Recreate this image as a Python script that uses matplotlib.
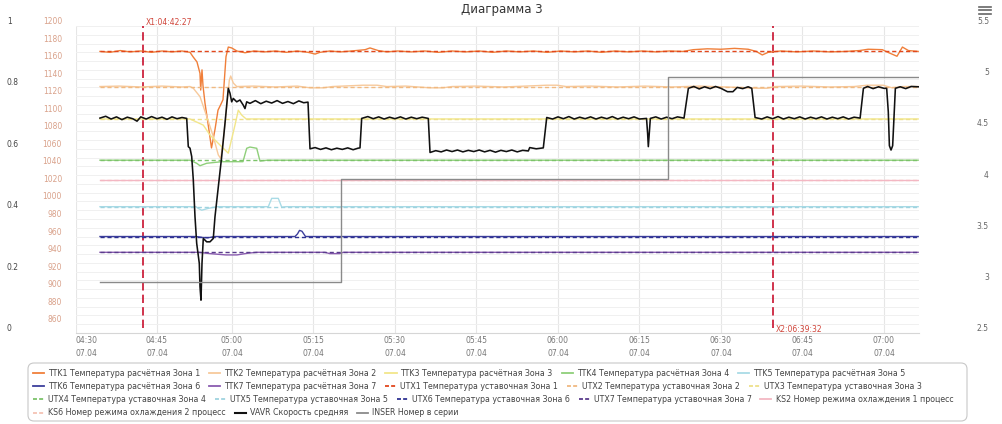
"""Диаграмма 3: температура по зонам печи, скорость и номер в серии (07.04, 04:30-07:06)."""
import numpy as np
import matplotlib
matplotlib.use('Agg')
import matplotlib.pyplot as plt
from matplotlib.lines import Line2D
from matplotlib.patches import FancyBboxPatch
from matplotlib.ticker import FixedLocator, MultipleLocator, FuncFormatter

W, H = 1003, 424

# x values are minutes after 04:30 (07.04)
DATE = '07.04'
X1_T, X1_LABEL = 12.45, 'X1:04:42:27'
X2_T, X2_LABEL = 129.53, 'X2:06:39:32'
T0, T_END = 4.44, 156.3

# ---- calculated temperatures (solid) ----
ttk1_t = [4.44, 6.3, 8.2, 10.0, 12.0, 14.0, 16.0, 18.0, 20.0, 21.6, 22.2, 23.0, 23.6, 23.74,
          24.0, 24.2, 24.6, 25.2, 25.9, 26.6, 27.2, 27.8, 28.2, 28.8, 29.26, 29.94, 30.9,
          32.4, 34.0, 36.0, 38.0, 40.0, 42.0, 44.0, 45.3, 46.2, 48.0, 50.0, 52.0, 54.5,
          55.4, 56.9, 58.5, 60.5, 63.0, 65.5, 68.0, 70.5, 73.0, 75.5, 78.0, 80.5, 83.0,
          85.5, 88.0, 90.5, 93.0, 95.5, 98.0, 100.5, 103.0, 105.5, 108.0, 110.5, 113.0,
          114.9, 117.5, 120.0, 122.5, 125.0, 126.5, 127.6, 128.7, 131.0, 134.0, 137.0,
          140.0, 143.0, 145.5, 147.1, 149.7, 150.9, 152.4, 153.4, 154.5, 156.3]
ttk1_v = [1171, 1170, 1172, 1170.5, 1171.5, 1170, 1171.5, 1170.5, 1171.5, 1170, 1165, 1159,
          1146, 1127, 1150, 1132, 1112, 1089, 1061, 1082, 1104, 1111, 1116, 1165, 1176,
          1175, 1171.5, 1169.5, 1171.5, 1170.5, 1171.5, 1170, 1171.5, 1170, 1168, 1170,
          1171.5, 1170.5, 1171.5, 1173, 1175, 1172, 1170.5, 1171.5, 1170.5, 1171.5, 1170,
          1171.5, 1170.5, 1171.5, 1170, 1171.5, 1170.5, 1171.5, 1170, 1171.5, 1170.5,
          1171.5, 1170, 1171.5, 1170.5, 1171.5, 1170.5, 1171.5, 1171, 1173, 1174, 1173.5,
          1174.5, 1173.5, 1171, 1167, 1170, 1171.5, 1170.5, 1171.5, 1170.5, 1171, 1172,
          1173.5, 1173, 1169.5, 1165.5, 1176, 1172, 1171]

ttk2_t = [4.44, 8.0, 12.0, 16.0, 20.0, 21.6, 22.26, 23.6, 24.94, 26.26, 27.26, 27.74, 28.26,
          28.94, 29.46, 29.74, 30.24, 30.87, 34.0, 38.0, 42.0, 44.4, 46.8, 48.5, 54.1, 56.7,
          58.5, 62.0, 66.45, 68.84, 70.5, 75.0, 80.0, 84.0, 87.98, 89.82, 91.5, 96.0, 101.0,
          106.0, 111.0, 116.0, 121.0, 126.65, 128.49, 130.0, 135.0, 140.0, 144.5, 146.9,
          149.85, 151.5, 153.5, 156.3]
ttk2_v = [1131, 1131.5, 1130.5, 1131.5, 1130.5, 1131, 1129, 1119.5, 1097, 1074, 1053, 1049,
          1070, 1108, 1138, 1143, 1135, 1131, 1131.5, 1130.5, 1131.5, 1129.5, 1129.5, 1131,
          1132.5, 1132.5, 1131, 1131.5, 1129.5, 1129.5, 1131, 1131.5, 1130.5, 1131.5, 1132.5,
          1132.5, 1131, 1131.5, 1130.5, 1131.5, 1130.5, 1131.5, 1130.5, 1129, 1129, 1131,
          1131.5, 1130.5, 1131, 1132.5, 1132.5, 1129.5, 1131, 1131]

ttk3_t = [4.44, 21.6, 24.26, 25.6, 27.6, 29.26, 30.55, 31.16, 31.78, 32.6, 156.3]
ttk3_v = [1094, 1094, 1087, 1075.7, 1064.3, 1055, 1087, 1104, 1098.5, 1094, 1094]

ttk4_t = [4.44, 21.6, 22.94, 23.6, 24.94, 27.94, 32.02, 32.71, 33.31, 34.55, 35.15, 36.5, 156.3]
ttk4_v = [1047, 1047, 1043.5, 1040.7, 1043.5, 1045.3, 1045.3, 1060.6, 1062, 1060.6, 1046, 1047, 1047]

ttk5_t = [4.44, 22.8, 23.26, 23.94, 25.2, 26.94, 36.68, 37.31, 38.52, 39.15, 40.0, 156.3]
ttk5_v = [994, 994, 992, 990, 992, 994, 994, 1003.5, 1003.5, 993.5, 994, 994]

ttk6_t = [4.44, 22.8, 24.0, 25.1, 26.6, 41.6, 42.06, 42.43, 42.88, 43.53, 156.3]
ttk6_v = [960, 960, 959, 958.5, 960, 960, 963, 967, 966, 960, 960]

ttk7_t = [4.44, 23.4, 25.6, 28.8, 30.9, 32.95, 34.5, 47.1, 48.0, 49.8, 50.5, 156.3]
ttk7_v = [942, 942, 940.5, 939, 939, 941, 942, 942, 940.5, 940.5, 942, 942]

# ---- set-point temperatures (dashed), constant over the range ----
utx_v = [1171, 1131, 1094, 1047, 994, 960, 942]

# ---- cooling mode numbers (left 0..1 axis) ----
ks2_v = 0.5
ks6_v = 0.5

# ---- average speed (left 0..1 axis) ----
vavr_t = [4.44, 5.5, 6.5, 7.5, 8.5, 9.5, 10.5, 11.3, 12.0, 13.0, 14.0, 15.0, 16.0, 17.0, 18.0,
          19.0, 20.0, 20.94, 21.26, 21.6, 21.94, 22.26, 22.6, 22.94, 23.46, 23.6, 23.8, 24.0,
          24.26, 24.94, 25.6, 26.26, 26.6, 27.26, 27.94, 28.6, 29.26, 29.6, 29.94, 30.24,
          30.87, 31.47, 32.08, 32.39, 32.71, 33.31, 34.3, 35.3, 36.3, 37.3, 38.3, 39.3, 40.3,
          41.3, 42.3, 43.2, 43.99, 44.36, 45.3, 46.3, 47.3, 48.3, 49.3, 50.3, 51.3, 52.3, 53.2,
          53.56, 53.87, 55.0, 56.0, 57.0, 58.0, 59.0, 60.0, 61.0, 62.0, 63.0, 64.0, 65.0,
          66.13, 66.45, 67.5, 68.5, 69.5, 70.5, 71.5, 72.5, 73.5, 74.5, 75.5, 76.5, 77.5,
          78.5, 79.5, 80.5, 81.5, 82.5, 83.5, 84.54, 84.8, 86.0, 87.3, 87.93, 89.0, 90.0,
          91.0, 92.0, 93.0, 94.0, 95.0, 96.0, 97.0, 98.0, 99.0, 100.0, 101.0, 102.0, 103.0,
          104.0, 105.0, 106.3, 106.5, 106.63, 106.8, 107.0, 108.0, 109.0, 110.0, 111.0,
          112.0, 113.2, 114.0, 115.0, 116.0, 117.0, 118.0, 119.0, 120.0, 121.2, 122.2, 123.0,
          124.0, 125.0, 125.67, 126.28, 127.5, 128.5, 129.5, 130.5, 131.5, 132.5, 133.5,
          134.5, 135.5, 136.5, 137.5, 138.5, 139.5, 140.5, 141.5, 142.5, 143.5, 144.5,
          145.61, 146.22, 147.0, 148.0, 149.0, 150.0, 150.5, 150.8, 151.0, 151.3, 151.6,
          151.9, 152.1, 153.0, 154.0, 155.0, 156.3]
vavr_v = [0.700, 0.706, 0.697, 0.704, 0.695, 0.703, 0.698, 0.690, 0.704, 0.697, 0.705, 0.698,
          0.703, 0.696, 0.704, 0.698, 0.702, 0.699, 0.607, 0.602, 0.575, 0.499, 0.379, 0.292,
          0.227, 0.151, 0.107, 0.227, 0.308, 0.297, 0.297, 0.308, 0.379, 0.476, 0.575, 0.683,
          0.797, 0.781, 0.753, 0.764, 0.753, 0.759, 0.742, 0.731, 0.753, 0.748, 0.757, 0.747,
          0.755, 0.749, 0.757, 0.748, 0.754, 0.747, 0.756, 0.750, 0.752, 0.600, 0.604, 0.598,
          0.603, 0.597, 0.602, 0.598, 0.603, 0.597, 0.602, 0.603, 0.699, 0.705, 0.698, 0.704,
          0.697, 0.703, 0.698, 0.704, 0.697, 0.703, 0.698, 0.703, 0.699, 0.588, 0.594, 0.590,
          0.596, 0.591, 0.596, 0.590, 0.595, 0.591, 0.596, 0.590, 0.595, 0.589, 0.595, 0.591,
          0.596, 0.590, 0.595, 0.593, 0.604, 0.600, 0.603, 0.702, 0.697, 0.704, 0.698, 0.705,
          0.697, 0.703, 0.698, 0.704, 0.697, 0.703, 0.698, 0.705, 0.697, 0.703, 0.698, 0.704,
          0.697, 0.699, 0.650, 0.607, 0.650, 0.699, 0.704, 0.697, 0.703, 0.698, 0.704, 0.700,
          0.797, 0.803, 0.795, 0.802, 0.796, 0.803, 0.797, 0.786, 0.786, 0.800, 0.796, 0.802,
          0.797, 0.702, 0.697, 0.704, 0.698, 0.705, 0.697, 0.703, 0.698, 0.704, 0.697, 0.703,
          0.698, 0.704, 0.697, 0.703, 0.698, 0.704, 0.697, 0.703, 0.700, 0.797, 0.803, 0.796,
          0.802, 0.797, 0.797, 0.720, 0.610, 0.596, 0.610, 0.720, 0.797, 0.802, 0.796, 0.803,
          0.802]

# ---- number in series (right 2.5..5.5 axis) ----
inser_t = [4.44, 50.06, 110.25, 156.3]
inser_v = [3, 4, 5, 5]

LEGEND_LABELS = [
    'TTK1 Температура расчётная Зона 1', 'TTK2 Температура расчётная Зона 2',
    'TTK3 Температура расчётная Зона 3', 'TTK4 Температура расчётная Зона 4',
    'TTK5 Температура расчётная Зона 5', 'TTK6 Температура расчётная Зона 6',
    'TTK7 Температура расчётная Зона 7', 'UTX1 Температура уставочная Зона 1',
    'UTX2 Температура уставочная Зона 2', 'UTX3 Температура уставочная Зона 3',
    'UTX4 Температура уставочная Зона 4', 'UTX5 Температура уставочная Зона 5',
    'UTX6 Температура уставочная Зона 6', 'UTX7 Температура уставочная Зона 7',
    'KS2 Номер режима охлаждения 1 процесс', 'KS6 Номер режима охлаждения 2 процесс',
    'VAVR Скорость средняя', 'INSER Номер в серии',
]
LEGEND_ROWS = [5, 5, 5, 3]

TTK_COLORS = ['#f07f3a', '#f7c99b', '#f2e68a', '#8fcf7a', '#a9dbe6', '#3d3f9c', '#8a5cb0']
UTX_COLORS = ['#e2471c', '#f0b981', '#eee08a', '#7cc36a', '#9fd3df', '#2e3192', '#5a3c8c']
KS2_COLOR, KS6_COLOR = '#f3b7c3', '#f5c3b4'
VAVR_COLOR, INSER_COLOR = '#111111', '#8a8a8a'
MARK_COLOR = '#c8102e'

# ordinal-like time axis: 04:45-05:00 is squeezed, as in the source chart
_tk = [-100, 0, 15, 30, 150, 300]
_pk = [-540, 0, 81, 156, 808, 1623]


def fwd(t):
    return np.interp(t, _tk, _pk)


def inv(p):
    return np.interp(p, _pk, _tk)


def time_label(m, pos=None):
    tot = 4 * 60 + 30 + int(round(m))
    return f'{tot // 60:02d}:{tot % 60:02d}\n{DATE}'


def fig_xy(x, y):
    return x / W, 1 - y / H


fig = plt.figure(figsize=(W / 100, H / 100), dpi=100)
fig.subplots_adjust(left=76 / W, right=919 / W, bottom=1 - 333 / H, top=1 - 26 / H)
ax = fig.add_subplot(111)
ax.set_xscale('function', functions=(fwd, inv))
ax.set_xlim(0, 156.45)
ax.set_ylim(850, 1200)

ax_l = ax.twinx()
ax_r = ax.twinx()
ax_l.set_ylim(0, 1)
ax_r.set_ylim(2.5, 5.5)

# grid
ax.yaxis.set_major_locator(FixedLocator(np.arange(860, 1201, 20)))
ax.yaxis.set_minor_locator(MultipleLocator(10))
ax.grid(axis='y', which='both', color='#f0f0f0', lw=0.7)
ax.xaxis.set_major_locator(FixedLocator(np.arange(0, 151, 15)))
ax.xaxis.set_minor_locator(FixedLocator([]))
ax.xaxis.set_major_formatter(FuncFormatter(time_label))
ax.grid(axis='x', which='major', color='#e6e6e6', lw=0.8)
ax.set_axisbelow(True)

# series
ttk_t = [ttk1_t, ttk2_t, ttk3_t, ttk4_t, ttk5_t, ttk6_t, ttk7_t]
ttk_v = [ttk1_v, ttk2_v, ttk3_v, ttk4_v, ttk5_v, ttk6_v, ttk7_v]
for t, v, c in zip(ttk_t, ttk_v, TTK_COLORS):
    ax.plot(t, v, color=c, lw=1.0, zorder=3)
for v, c in zip(utx_v, UTX_COLORS):
    ax.plot([T0, T_END], [v, v], color=c, lw=1.0, dashes=(3, 2), zorder=4)

ax_l.plot([T0, T_END], [ks6_v, ks6_v], color=KS6_COLOR, lw=1.0, dashes=(3, 2), zorder=2)
ax_l.plot([T0, T_END], [ks2_v, ks2_v], color=KS2_COLOR, lw=1.0, zorder=3)
ax_l.plot(vavr_t, vavr_v, color=VAVR_COLOR, lw=1.15, zorder=4)
ax_r.plot(inser_t, inser_v, color=INSER_COLOR, lw=1.0, drawstyle='steps-post', zorder=5)

# X1 / X2 cursors
for xt in (X1_T, X2_T):
    ax.axvline(xt, ymin=0.015, ymax=1.0, color=MARK_COLOR, lw=1.2, dashes=(5, 2.5), zorder=2.5)
ax.annotate(X1_LABEL, xy=(X1_T, 1.0), xycoords=('data', 'axes fraction'), xytext=(2, 2.5),
            textcoords='offset points', fontsize=5.5, color='#d0453a', va='center', ha='left')
ax.annotate(X2_LABEL, xy=(X2_T, 0.0), xycoords=('data', 'axes fraction'), xytext=(2, 2.2),
            textcoords='offset points', fontsize=5.5, color='#d0453a', va='center', ha='left')

# axes styling
for a in (ax, ax_l, ax_r):
    for s in a.spines.values():
        s.set_visible(False)
ax.spines['bottom'].set_visible(True)
ax.spines['bottom'].set_color('#d6d6d6')
ax.spines['bottom'].set_linewidth(0.8)

ax.tick_params(axis='x', length=0, pad=2.2, labelsize=5.5, labelcolor='#777777')
for lab in ax.get_xticklabels():
    lab.set_linespacing(1.6)
ax.get_xticklabels()[0].set_ha('left')

ax.tick_params(axis='y', which='both', length=0, pad=10.1, labelsize=5.5, labelcolor='#d9a18a')

ax_l.yaxis.tick_left()
ax_l.yaxis.set_major_locator(FixedLocator([0, 0.2, 0.4, 0.6, 0.8, 1.0]))
ax_l.yaxis.set_major_formatter(FuncFormatter(lambda v, p: f'{v:g}'))
ax_l.tick_params(axis='y', length=0, pad=49.7, labelsize=5.5, labelcolor='#444444')
for lab in ax_l.get_yticklabels():
    lab.set_ha('left')

ax_r.yaxis.set_major_locator(FixedLocator([2.5, 3, 3.5, 4, 4.5, 5, 5.5]))
ax_r.yaxis.set_major_formatter(FuncFormatter(lambda v, p: f'{v:g}'))
ax_r.tick_params(axis='y', length=0, pad=50.4, labelsize=5.5, labelcolor='#666666')
for lab in ax_r.get_yticklabels():
    lab.set_ha('right')

for a in (ax, ax_l, ax_r):
    for lab in a.get_yticklabels():
        lab.set_va('bottom')

# title and menu icon
fig.text(0.5, 1 - 10 / H, 'Диаграмма 3', ha='center', va='center', fontsize=8.5, color='#333333')
for yy in (6.5, 10, 13.5):
    fig.add_artist(Line2D([979 / W, 991 / W], [1 - yy / H] * 2, color='#666666', lw=1.2))

# legend: items flow left to right, rows as in the source
box_x0, box_y0 = fig_xy(28, 421)
box_x1, box_y1 = fig_xy(967, 363)
fig.add_artist(FancyBboxPatch((box_x0, box_y0), box_x1 - box_x0, box_y1 - box_y0,
                              boxstyle='round,pad=0,rounding_size=0.006',
                              mutation_aspect=W / H, transform=fig.transFigure,
                              facecolor='white', edgecolor='#c8c8c8', lw=0.8))
leg_colors = TTK_COLORS + UTX_COLORS + [KS2_COLOR, KS6_COLOR, VAVR_COLOR, INSER_COLOR]
leg_dashed = [False] * 7 + [True] * 7 + [False, True, False, False]
renderer = fig.canvas.get_renderer()
idx = 0
for row, n in enumerate(LEGEND_ROWS):
    y0 = 373 + row * 13.2
    x0 = 33
    for _ in range(n):
        lab, c, d = LEGEND_LABELS[idx], leg_colors[idx], leg_dashed[idx]
        xa, ya = fig_xy(x0, y0)
        xb, _ = fig_xy(x0 + 11, y0)
        ln = Line2D([xa, xb], [ya, ya], color=c, lw=1.5 if c == VAVR_COLOR else 1.3)
        if d:
            ln.set_dashes((2.2, 1.2))
        fig.add_artist(ln)
        xt, _ = fig_xy(x0 + 15, y0)
        txt = fig.text(xt, ya, lab, ha='left', va='center', fontsize=5.7, color='#444444')
        x0 = x0 + 15 + txt.get_window_extent(renderer).width + 9
        idx += 1

fig.savefig('out.png', dpi=100)
